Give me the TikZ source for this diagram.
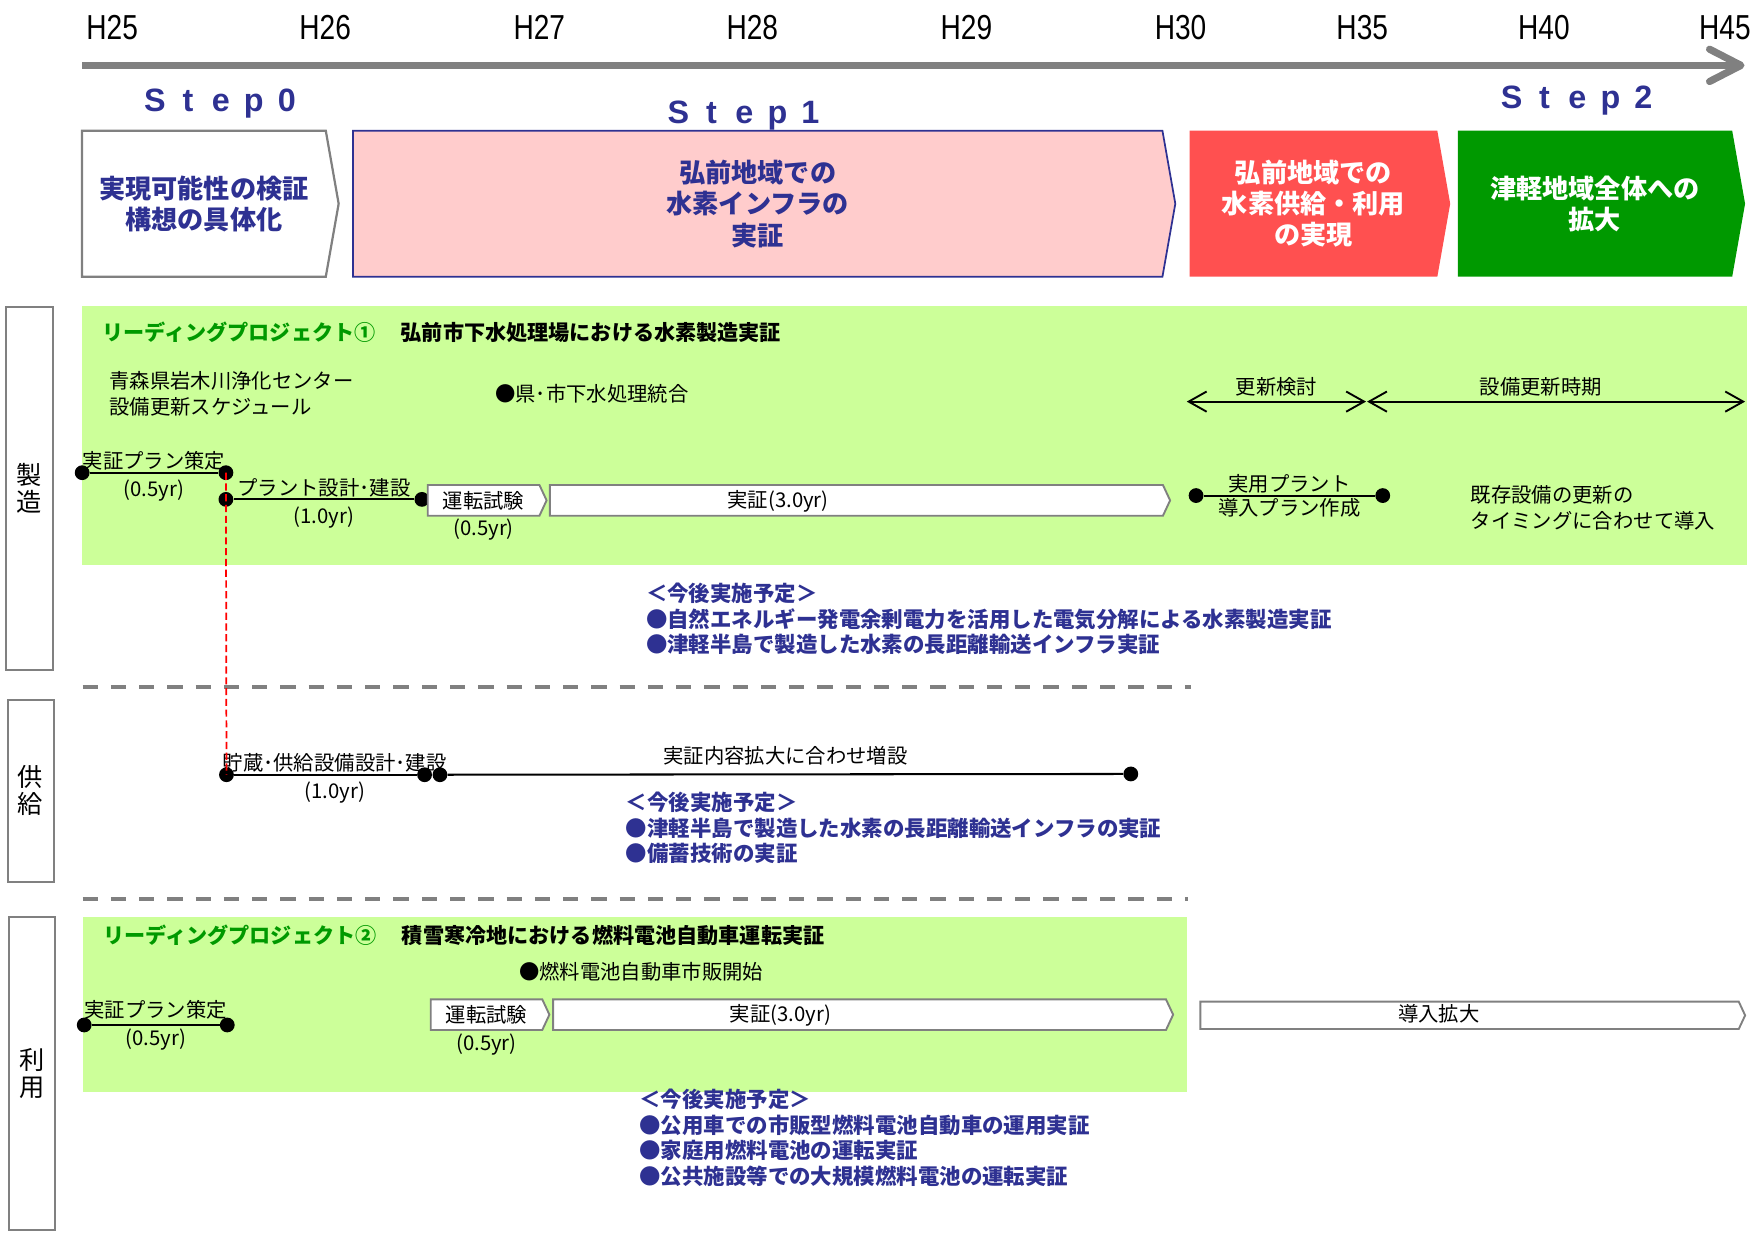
\documentclass[tikz,border=0pt]{standalone}
\usepackage{fontspec}
\setmainfont{Noto Sans CJK JP}
\newfontfamily\yearfont[FakeStretch=0.81]{Liberation Sans}
\newfontfamily\stepfont{Liberation Sans Bold}
\usetikzlibrary{positioning, shapes.symbols, arrows.meta}

\definecolor{navy}{RGB}{46,49,146}
\definecolor{pinkfill}{RGB}{255,204,204}
\definecolor{redfill}{RGB}{255,80,80}
\definecolor{greenfill}{RGB}{0,153,0}
\definecolor{zonegreen}{RGB}{204,255,153}
\definecolor{axisgray}{RGB}{128,128,128}

\newcommand\txtsize{\fontsize{12.9pt}{16.4pt}\selectfont}
% one letter of a spaced step title
\newcommand\fw[1]{\makebox[0.735cm]{#1}}

\begin{document}
\begin{tikzpicture}[
  x=0.025cm, y=-0.025cm,
  yearlbl/.style={font=\yearfont\fontsize{22pt}{24pt}\selectfont, inner sep=0pt},
  steplbl/.style={text=navy, inner sep=0pt,
                  font=\stepfont\fontsize{20.5pt}{22pt}\selectfont},
  stepbox/.style={signal, signal to=east, signal from=nowhere,
                  signal pointer angle=160, anchor=west, align=center,
                  minimum height=3.255cm, inner sep=0pt, outer sep=0pt,
                  font=\bfseries\fontsize{16.6pt}{19.9pt}\selectfont},
  chev/.style={signal, signal to=east, signal from=nowhere,
               signal pointer angle=130, anchor=west, draw=axisgray,
               line width=1.2pt, fill=white, minimum height=0.685cm,
               inner sep=0pt, outer sep=0pt, font=\txtsize},
  catbox/.style={rectangle, draw=axisgray, line width=1.3pt, fill=white,
                 align=center, inner sep=0pt,
                 font=\fontsize{16pt}{17.1pt}\selectfont},
  tdot/.style={circle, fill=black, inner sep=0pt, minimum size=0.33cm},
  tline/.style={line width=1.3pt},
  lbl/.style={font=\txtsize, inner sep=1pt},
  txt/.style={font=\txtsize, inner sep=0pt, align=left, anchor=west},
  plan/.style={text=navy, inner sep=0pt, align=left, anchor=west,
               font=\bfseries\fontsize{13.6pt}{16.2pt}\selectfont},
  head/.style={inner sep=0pt, anchor=west,
               font=\bfseries\fontsize{13.4pt}{16pt}\selectfont},
  zone/.style={fill=zonegreen},
  sepline/.style={draw=axisgray, line width=0.085cm,
                  dash pattern=on 0.34cm off 0.29cm},
  redlink/.style={draw=red, line width=1.1pt, dash pattern=on 0.16cm off 0.08cm},
  spanarr/.style={{Straight Barb[length=0.4cm, width=0.45cm]}-{Straight Barb[length=0.4cm, width=0.45cm]},
                  line width=1.2pt},
  timeaxis/.style={-{Straight Barb[length=0.7cm, width=0.72cm, round]},
                   draw=axisgray, line width=0.16cm},
]
\useasboundingbox (0, 0) rectangle (1568, 1099);

% Green project zones and section separators
\path[zone] (73, 273) rectangle (1558, 504);
\path[zone] (73.7, 818.2) rectangle (1059, 973.6);
\draw[sepline] (73.7, 612.5) -- (1062, 612.5);
\draw[sepline] (73.7, 802) -- (1060, 802);

% Time axis
\foreach \lab/\xx in {H25/100, H26/290, H27/481, H28/671, H29/862,
                      H30/1053, H35/1215, H40/1377, H45/1538.5}
  \node[yearlbl] (y\lab) at (\xx, 24.5) {\lab};
\coordinate (ax0) at (73.2, 58.3);
\coordinate (ax1) at (1556, 58.3);
\draw[timeaxis] (ax0) -- (ax1);

% Steps
\node[steplbl] (st0) at (197, 92) {\fw{S}\fw{t}\fw{e}\fw{p}\fw{0}};
\node[steplbl] (st1) at (664, 103.5) {\fw{S}\fw{t}\fw{e}\fw{p}\fw{1}};
\node[steplbl] (st2) at (1407, 89.5) {\fw{S}\fw{t}\fw{e}\fw{p}\fw{2}};

\node[stepbox, draw=axisgray, line width=1.4pt, fill=white, text=navy,
      minimum width=5.72cm] (s0) at (73.2, 181.7)
  {実現可能性の検証\\構想の具体化};
\node[stepbox, draw=navy, line width=1.1pt, fill=pinkfill, text=navy,
      minimum width=18.33cm] (s1) at (314.9, 181.7)
  {弘前地域での\\水素インフラの\\実証};
\node[stepbox, fill=redfill, text=white,
      minimum width=5.81cm] (s2) at (1061, 181.7)
  {弘前地域での\\水素供給・利用\\の実現};
\node[stepbox, fill=greenfill, text=white,
      minimum width=6.405cm] (s3) at (1300.2, 181.7)
  {津軽地域全体への\\拡大};

% Categories
\node[catbox, minimum width=1.05cm, minimum height=8.1cm] (cmake) at (26, 435.5) {製\\造};
\node[catbox, minimum width=1.025cm, minimum height=4.05cm] (csupply) at (27.3, 705.3) {供\\給};
\node[catbox, minimum width=1.02cm, minimum height=6.985cm] (cuse) at (28.6, 957.3) {利\\用};

% Leading project 1
\node[head, text=greenfill] (lp1) at (91, 296.5) {リーディングプロジェクト①};
\node[head, right=0.55cm of lp1] (lp1t) {弘前市下水処理場における水素製造実証};
\node[txt] (aomori) at (97.3, 351.5) {青森県岩木川浄化センター\\設備更新スケジュール};
\node[txt] (merge) at (441.5, 351.5) {●県･市下水処理統合};

\coordinate (r0) at (1058.5, 358.2);
\coordinate (r1) at (1218.4, 358.2);
\coordinate (r2) at (1219.3, 358.2);
\coordinate (r3) at (1556.5, 358.2);
\draw[spanarr] (r0) -- node[lbl, above=2pt] {更新検討} (r1);
\draw[spanarr] (r2) -- node[lbl, above=2pt, pos=0.46] {設備更新時期} (r3);

\node[tdot] (m1a) at (73.3, 421.6) {};
\node[tdot] (m1b) at (201.5, 421.6) {};
\node[tdot] (m2a) at (201.5, 445.4) {};
\node[tdot] (m2b) at (376.3, 445.4) {};
\draw[tline] (m1a) -- node[lbl, above] {実証プラン策定} node[lbl, below=3pt] {(0.5yr)} (m1b);
\draw[tline] (m2a) -- node[lbl, above] {プラント設計･建設} node[lbl, below=3pt] {(1.0yr)} (m2b);

\node[chev, minimum width=2.65cm] (mtest) at (381.5, 446.3) {運転試験};
\node[lbl, below=1pt of mtest] (mtestyr) {(0.5yr)};
\node[chev, minimum width=13.825cm] (mdemo) at (490.5, 446.3) {};
\node[lbl] (mdemotx) at (694, 446.8) {実証(3.0yr)};

\node[tdot] (p1a) at (1066.8, 442) {};
\node[tdot] (p1b) at (1233.3, 442) {};
\draw[tline] (p1a) -- node[lbl, above] {実用プラント} node[lbl, below] {導入プラン作成} (p1b);
\node[txt] (exist) at (1311.7, 452.6) {既存設備の更新の\\タイミングに合わせて導入};

\node[plan] (plan1) at (576, 552) {＜今後実施予定＞\\●自然エネルギー発電余剰電力を活用した電気分解による水素製造実証\\●津軽半島で製造した水素の長距離輸送インフラ実証};

% Supply
\node[tdot] (s1a) at (202, 691) {};
\node[tdot] (s1b) at (378.7, 691) {};
\node[tdot] (s2a) at (392.4, 691) {};
\node[tdot] (s2b) at (1008.6, 690.3) {};
\draw[tline] (s1a) -- node[lbl, above, pos=0.55] {貯蔵･供給設備設計･建設} node[lbl, below=3pt, pos=0.55] {(1.0yr)} (s1b);
\draw[tline] (s2a) -- node[lbl, above=4pt] {実証内容拡大に合わせ増設} (s2b);
\draw[redlink] (m1b.center) -- (s1a.center);

\node[plan] (plan2) at (558, 738.5) {＜今後実施予定＞\\●津軽半島で製造した水素の長距離輸送インフラの実証\\●備蓄技術の実証};

% Leading project 2
\node[head, text=greenfill] (lp2) at (92, 834) {リーディングプロジェクト②};
\node[head, right=0.55cm of lp2] (lp2t) {積雪寒冷地における燃料電池自動車運転実証};
\node[txt] (fcv) at (462.7, 867) {●燃料電池自動車市販開始};

\node[tdot] (u1a) at (75.1, 914.2) {};
\node[tdot] (u1b) at (202.7, 914.2) {};
\draw[tline] (u1a) -- node[lbl, above=2pt] {実証プラン策定} node[lbl, below=1pt] {(0.5yr)} (u1b);

\node[chev, minimum width=2.645cm] (utest) at (384.2, 905) {運転試験};
\node[lbl, below=1pt of utest] (utestyr) {(0.5yr)};
\node[chev, minimum width=13.82cm] (udemo) at (493.4, 905) {};
\node[lbl] (udemotx) at (696, 905.5) {実証(3.0yr)};
\node[chev, minimum width=12.145cm, minimum height=0.61cm] (uexp) at (1070.6, 905.6) {};
\node[lbl] (uexptx) at (1283.3, 904) {導入拡大};

\node[plan] (plan3) at (570, 1015) {＜今後実施予定＞\\●公用車での市販型燃料電池自動車の運用実証\\●家庭用燃料電池の運転実証\\●公共施設等での大規模燃料電池の運転実証};

\end{tikzpicture}
\end{document}
